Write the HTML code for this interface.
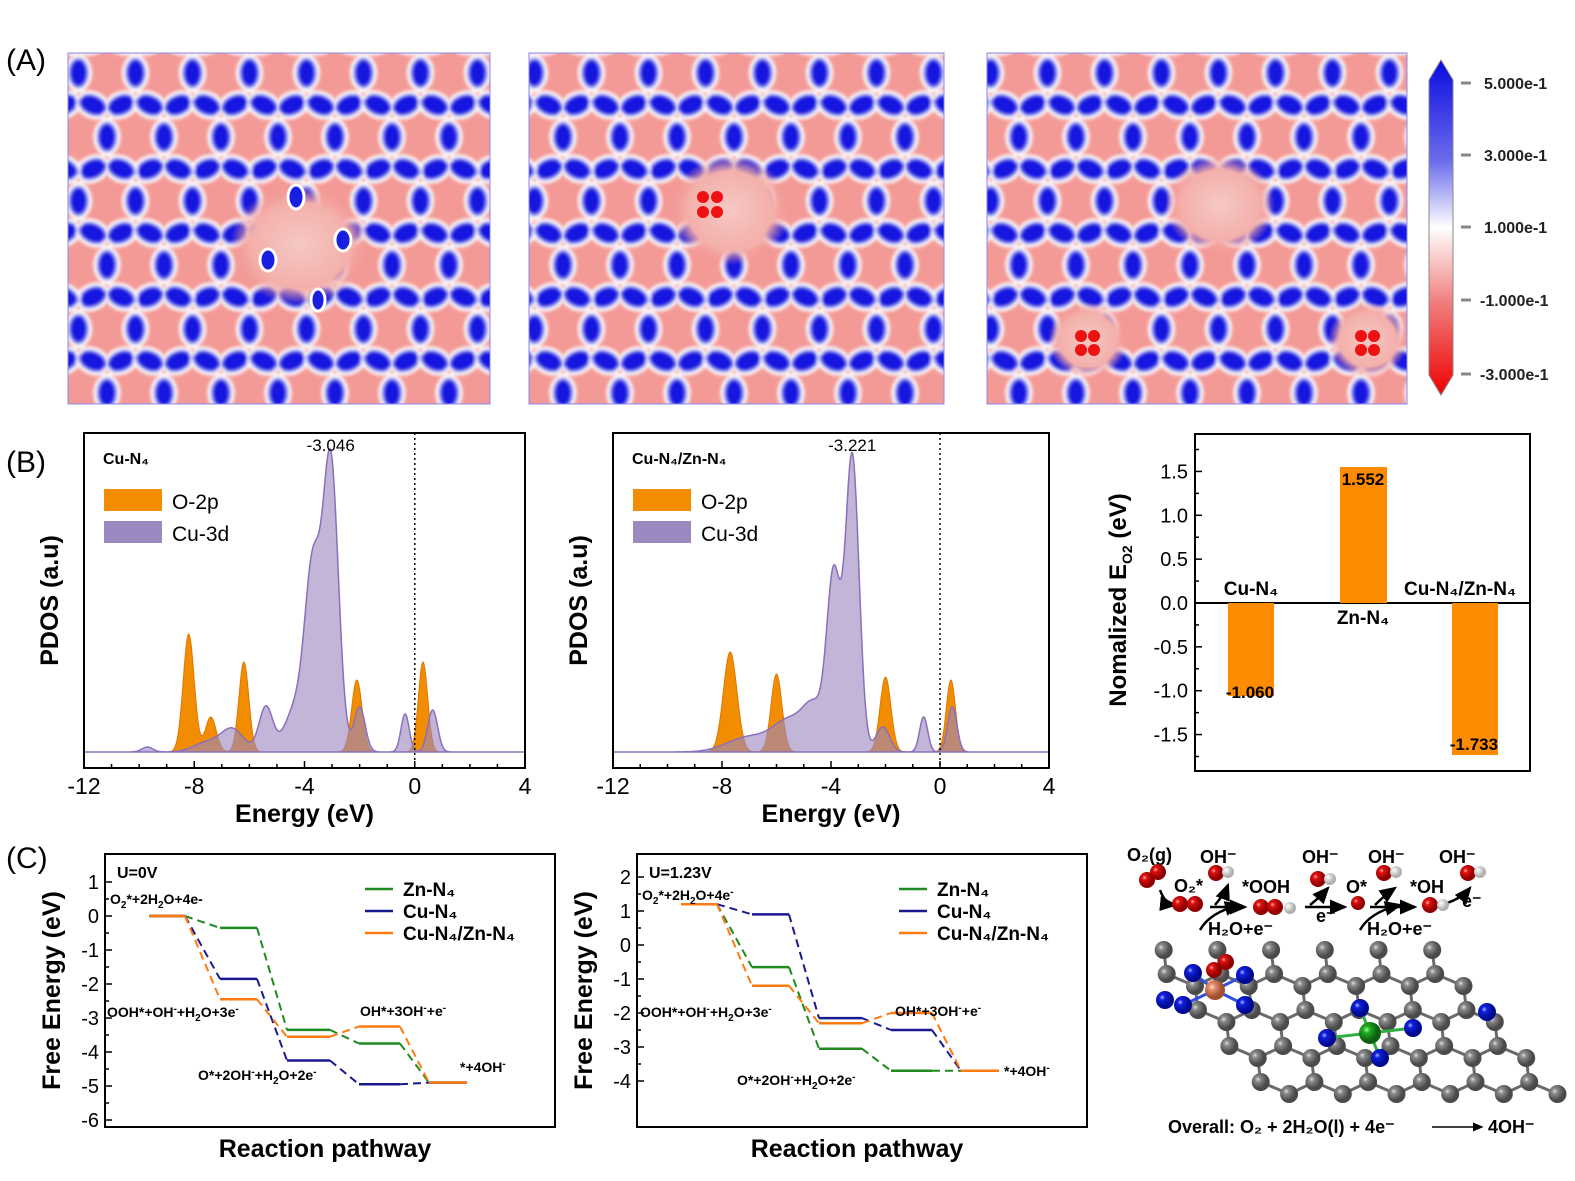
<!DOCTYPE html>
<html><head><meta charset="utf-8">
<style>
html,body{margin:0;padding:0;background:#fff;}
svg{display:block;font-family:"Liberation Sans",Arial,sans-serif;}
</style></head>
<body>
<svg id="s" width="1575" height="1181" viewBox="0 0 1575 1181" xmlns="http://www.w3.org/2000/svg">
<defs>
<filter id="bl" x="-5%" y="-5%" width="110%" height="110%"><feGaussianBlur stdDeviation="1.6"/></filter>
<pattern id="hex" patternUnits="userSpaceOnUse" width="57" height="128" patternTransform="translate(107,73)">
<rect x="-5" y="-5" width="70" height="140" fill="#f39a97"/>
<g filter="url(#bl)">
<g fill="#8a8cf0" stroke="#ffffff" stroke-width="3">
<ellipse cx="28.5" cy="0" rx="12" ry="17"/>
<ellipse cx="28.5" cy="128" rx="12" ry="17"/>
<ellipse cx="14.25" cy="32" rx="17" ry="12" transform="rotate(-24 14.25 32)"/>
<ellipse cx="42.75" cy="32" rx="17" ry="12" transform="rotate(24 42.75 32)"/>
<ellipse cx="0" cy="64" rx="12" ry="17"/>
<ellipse cx="57" cy="64" rx="12" ry="17"/>
<ellipse cx="42.75" cy="96" rx="17" ry="12" transform="rotate(-24 42.75 96)"/>
<ellipse cx="14.25" cy="96" rx="17" ry="12" transform="rotate(24 14.25 96)"/>
</g>
<g fill="#1414e0">
<ellipse cx="28.5" cy="0" rx="8" ry="13"/>
<ellipse cx="28.5" cy="128" rx="8" ry="13"/>
<ellipse cx="14.25" cy="32" rx="13" ry="8.5" transform="rotate(-24 14.25 32)"/>
<ellipse cx="42.75" cy="32" rx="13" ry="8.5" transform="rotate(24 42.75 32)"/>
<ellipse cx="0" cy="64" rx="8" ry="13"/>
<ellipse cx="57" cy="64" rx="8" ry="13"/>
<ellipse cx="42.75" cy="96" rx="13" ry="8.5" transform="rotate(-24 42.75 96)"/>
<ellipse cx="14.25" cy="96" rx="13" ry="8.5" transform="rotate(24 14.25 96)"/>
</g>
<g fill="#ffffff"><circle cx="28.5" cy="21" r="4.5"/><circle cx="0" cy="43" r="4.5"/><circle cx="57" cy="43" r="4.5"/><circle cx="28.5" cy="107" r="4.5"/><circle cx="0" cy="85" r="4.5"/><circle cx="57" cy="85" r="4.5"/></g>
<g fill="#f39a97"><circle cx="28.5" cy="21" r="2.2"/><circle cx="0" cy="43" r="2.2"/><circle cx="57" cy="43" r="2.2"/><circle cx="28.5" cy="107" r="2.2"/><circle cx="0" cy="85" r="2.2"/><circle cx="57" cy="85" r="2.2"/></g>
</g>
</pattern>
<radialGradient id="hole"><stop offset="0" stop-color="#f5c8c5"/><stop offset="0.7" stop-color="#f4b0ab"/><stop offset="1" stop-color="#f39a97" stop-opacity="0"/></radialGradient>
<linearGradient id="cb" x1="0" y1="0" x2="0" y2="1">
<stop offset="0" stop-color="#0a0ae0"/><stop offset="0.3" stop-color="#6b6bec"/><stop offset="0.5" stop-color="#ffffff"/><stop offset="0.72" stop-color="#f08080"/><stop offset="1" stop-color="#f00000"/>
</linearGradient>
<radialGradient id="gC" cx="0.35" cy="0.35"><stop offset="0" stop-color="#e0e0e0"/><stop offset="0.3" stop-color="#8a8a8a"/><stop offset="1" stop-color="#4a4a4a"/></radialGradient>
<radialGradient id="gN" cx="0.35" cy="0.35"><stop offset="0" stop-color="#b0b8ff"/><stop offset="0.3" stop-color="#1020e0"/><stop offset="1" stop-color="#000a90"/></radialGradient>
<radialGradient id="gO" cx="0.35" cy="0.35"><stop offset="0" stop-color="#ffb0b0"/><stop offset="0.3" stop-color="#e01010"/><stop offset="1" stop-color="#900000"/></radialGradient>
<radialGradient id="gH" cx="0.35" cy="0.35"><stop offset="0" stop-color="#ffffff"/><stop offset="1" stop-color="#b0b0b0"/></radialGradient>
<radialGradient id="gZ" cx="0.35" cy="0.35"><stop offset="0" stop-color="#a0ffa0"/><stop offset="0.3" stop-color="#20b020"/><stop offset="1" stop-color="#0a6010"/></radialGradient>
<radialGradient id="gU" cx="0.35" cy="0.35"><stop offset="0" stop-color="#ffe0d0"/><stop offset="0.3" stop-color="#e89070"/><stop offset="1" stop-color="#a05030"/></radialGradient>
<marker id="ar" markerWidth="8" markerHeight="8" refX="6" refY="4" orient="auto"><path d="M0,1 L7,4 L0,7 z" fill="#000"/></marker>
</defs>

<!-- Panel A -->
<text x="6" y="70" font-size="30">(A)</text>
<rect x="68" y="53" width="422" height="351" fill="url(#hex)" stroke="#8888ee" stroke-width="1"/>
<ellipse cx="300" cy="245" rx="70" ry="60" fill="url(#hole)"/>
<g fill="#1a1ee0" stroke="#fff" stroke-width="3"><ellipse cx="296" cy="197" rx="8" ry="12"/><ellipse cx="343" cy="240" rx="8" ry="11"/><ellipse cx="268" cy="260" rx="8" ry="11"/><ellipse cx="318" cy="300" rx="7" ry="11"/></g>
<rect x="529" y="53" width="415" height="351" fill="url(#hex)" stroke="#8888ee" stroke-width="1"/>
<ellipse cx="730" cy="210" rx="60" ry="55" fill="url(#hole)"/>
<g fill="#ee1111"><circle cx="703" cy="197" r="6"/><circle cx="717" cy="197" r="6"/><circle cx="703" cy="212" r="6"/><circle cx="717" cy="212" r="6"/></g>
<rect x="987" y="53" width="420" height="351" fill="url(#hex)" stroke="#8888ee" stroke-width="1"/>
<ellipse cx="1220" cy="205" rx="55" ry="50" fill="url(#hole)"/>
<ellipse cx="1088" cy="340" rx="40" ry="38" fill="url(#hole)"/>
<ellipse cx="1368" cy="340" rx="40" ry="38" fill="url(#hole)"/>
<g fill="#ee1111"><circle cx="1081" cy="336" r="6"/><circle cx="1094" cy="336" r="6"/><circle cx="1081" cy="350" r="6"/><circle cx="1094" cy="350" r="6"/>
<circle cx="1361" cy="336" r="6"/><circle cx="1374" cy="336" r="6"/><circle cx="1361" cy="350" r="6"/><circle cx="1374" cy="350" r="6"/></g>
<!-- colorbar -->
<path d="M1441,60 L1453,80 L1453,375 L1441,395 L1429,375 L1429,80 Z" fill="url(#cb)" stroke="#888" stroke-width="1"/>
<g stroke="#888" stroke-width="3"><line x1="1461" y1="83" x2="1471" y2="83"/><line x1="1461" y1="155" x2="1471" y2="155"/><line x1="1461" y1="227" x2="1471" y2="227"/><line x1="1461" y1="300" x2="1471" y2="300"/><line x1="1461" y1="374" x2="1471" y2="374"/></g>
<g font-size="16" font-weight="bold" fill="#222"><text x="1484" y="89">5.000e-1</text><text x="1484" y="161">3.000e-1</text><text x="1484" y="233">1.000e-1</text><text x="1480" y="306">-1.000e-1</text><text x="1480" y="380">-3.000e-1</text></g>

<!-- Panel B -->
<text x="6" y="472" font-size="30">(B)</text>
<g id="pdos"></g>

<!-- bar chart -->
<rect x="1195" y="434" width="335" height="337" fill="none" stroke="#000" stroke-width="2"/>
<line x1="1195" y1="603" x2="1530" y2="603" stroke="#000" stroke-width="2"/>
<g fill="#ff8c00"><rect x="1228" y="603" width="46" height="93"/><rect x="1340" y="467" width="47" height="136"/><rect x="1452" y="603" width="46" height="152"/></g>
<g font-size="17" font-weight="bold" text-anchor="middle"><text x="1250" y="698">-1.060</text><text x="1363" y="485">1.552</text><text x="1474" y="750">-1.733</text>
<text x="1251" y="595" font-size="19">Cu-N₄</text><text x="1363" y="624" font-size="19">Zn-N₄</text><text x="1460" y="595" font-size="19">Cu-N₄/Zn-N₄</text></g>
<g id="bart"></g>
<text transform="translate(1126,600) rotate(-90)" font-size="24" font-weight="bold" text-anchor="middle">Nomalized E<tspan font-size="14" dy="6">O2</tspan><tspan dy="-6"> (eV)</tspan></text>

<!-- Panel C -->
<text x="6" y="868" font-size="30">(C)</text>
<g id="fe"></g>

<!-- scheme -->
<g id="mol"></g>
<g font-size="18" font-weight="bold">
<text x="1127" y="861">O₂(g)</text><text x="1200" y="863">OH⁻</text><text x="1302" y="863">OH⁻</text><text x="1368" y="863">OH⁻</text><text x="1439" y="863">OH⁻</text>
<text x="1174" y="892">O₂*</text><text x="1242" y="893">*OOH</text><text x="1346" y="893">O*</text><text x="1410" y="893">*OH</text>
<text x="1208" y="935">H₂O+e⁻</text><text x="1367" y="935">H₂O+e⁻</text><text x="1316" y="922">e⁻</text><text x="1462" y="907">e⁻</text>
<text x="1168" y="1133">Overall:  O₂ + 2H₂O(l) + 4e⁻</text><text x="1488" y="1133">4OH⁻</text>
</g>
<line x1="1432" y1="1127" x2="1482" y2="1127" stroke="#000" stroke-width="1.5" marker-end="url(#ar)"/>
<g stroke="#000" stroke-width="2.5" fill="none" marker-end="url(#ar)">
<path d="M1160,890 Q1165,904 1175,905"/>
<line x1="1210" y1="907" x2="1245" y2="907"/><path d="M1215,905 Q1225,893 1228,885"/><path d="M1200,930 Q1210,912 1240,905"/>
<line x1="1305" y1="907" x2="1345" y2="907"/><path d="M1310,905 Q1320,897 1328,888"/>
<line x1="1370" y1="907" x2="1415" y2="907"/><path d="M1375,905 Q1385,895 1395,888"/><path d="M1360,930 Q1370,912 1400,905"/>
<path d="M1447,903 Q1462,898 1470,888"/>
</g>
<g id="mols"></g>
</svg>
<script>
function add(g,html){document.getElementById(g).insertAdjacentHTML('beforeend',html);}
function gsum(E,pk){let s=0;for(const p of pk)s+=p[1]*Math.exp(-((E-p[0])**2)/(2*p[2]*p[2]));return s;}
function pdos(x0,x1,y0,y1,lab,peakLab,cu,o){
  let h='';
  const fx=E=>x0+(E+12)/16*(x1-x0), base=y1-16;
  const path=pk=>{let d=`M${fx(-12)},${base}`;for(let E=-12;E<=4.001;E+=0.02){d+=` L${fx(E).toFixed(1)},${(base-gsum(E,pk)).toFixed(1)}`;}d+=` L${fx(4)},${base} Z`;return d;};
  h+=`<path d="${path(o)}" fill="#f28c00" stroke="#e07800" stroke-width="1"/>`;
  h+=`<path d="${path(cu)}" fill="#9c88c0" fill-opacity="0.62" stroke="#8a70bb" stroke-width="1.5"/>`;
  h+=`<line x1="${fx(0)}" y1="${y0}" x2="${fx(0)}" y2="${y1}" stroke="#000" stroke-width="1.5" stroke-dasharray="2,3"/>`;
  h+=`<rect x="${x0}" y="${y0}" width="${x1-x0}" height="${y1-y0}" fill="none" stroke="#000" stroke-width="2"/>`;
  for(let E=-12;E<=4;E+=1){const X=fx(E);const L=(E%4==0)?7:4;h+=`<line x1="${X}" y1="${y1}" x2="${X}" y2="${y1-L}" stroke="#000" stroke-width="1.5"/>`;
    if(E%4==0)h+=`<text x="${X}" y="${y1+26}" font-size="23" text-anchor="middle">${E<0?'-'+(-E):E}</text>`;}
  h+=`<text x="${(x0+x1)/2}" y="${y1+54}" font-size="25" font-weight="bold" text-anchor="middle">Energy (eV)</text>`;
  h+=`<text transform="translate(${x0-26},${(y0+y1)/2}) rotate(-90)" font-size="25" font-weight="bold" text-anchor="middle">PDOS (a.u)</text>`;
  h+=`<text x="${x0+19}" y="${y0+31}" font-size="16" font-weight="bold">${lab}</text>`;
  h+=`<rect x="${x0+20}" y="${y0+56}" width="58" height="22" fill="#f28c00"/><text x="${x0+88}" y="${y0+76}" font-size="21">O-2p</text>`;
  h+=`<rect x="${x0+20}" y="${y0+88}" width="58" height="22" fill="#9c88c0"/><text x="${x0+88}" y="${y0+108}" font-size="21">Cu-3d</text>`;
  h+=`<text x="${fx(peakLab[0])}" y="${y0+18}" font-size="17" text-anchor="middle">${peakLab[1]}</text>`;
  add('pdos',h);
}
pdos(84,525,433,768,'Cu-N₄',[-3.05,'-3.046'],
 [[-3.05,290,0.28],[-3.7,170,0.28],[-4.3,45,0.4],[-5.4,45,0.25],[-6.6,22,0.4],[-2.0,45,0.2],[-0.35,38,0.15],[0.65,42,0.18],[-9.7,5,0.2],[-7.5,10,0.5]],
 [[-8.2,118,0.2],[-7.4,35,0.2],[-6.2,90,0.18],[-2.1,72,0.19],[0.3,90,0.17]]);
pdos(613,1049,433,768,'Cu-N₄/Zn-N₄',[-3.22,'-3.221'],
 [[-3.22,295,0.25],[-3.9,170,0.25],[-4.6,40,0.4],[-5.5,30,0.6],[-7,15,0.8],[-0.6,35,0.15],[0.45,45,0.17],[-2.1,25,0.25]],
 [[-7.7,100,0.25],[-6.0,78,0.2],[-2.0,75,0.2],[0.4,72,0.17]]);
(function(){let h='';for(let v=-1.75;v<=1.76;v+=0.25){const y=603-v*87.7;const maj=Math.abs(v*2-Math.round(v*2))<1e-6;h+=`<line x1="1195" y1="${y}" x2="${1195+(maj?7:4)}" y2="${y}" stroke="#000" stroke-width="1.5"/>`;
 if(maj)h+=`<text x="1188" y="${y+7}" font-size="20" text-anchor="end">${v.toFixed(1)}</text>`;}add('bart',h);})();
function fe(x0,y0,x1,y1,vmin,vmax,v0y,title,data,legx,labels){
  let h='';const fy=v=>v0y-34*v;
  const L=[[44,80],[115,152],[182,225],[254,295],[324,362]];
  const cols={zn:'#1f8a1f',cu:'#1a1a90',cz:'#ff7a10'};
  for(const k of ['zn','cu','cz']){const d=data[k];
    for(let i=0;i<5;i++){h+=`<line x1="${x0+L[i][0]}" y1="${fy(d[i])}" x2="${x0+L[i][1]}" y2="${fy(d[i])}" stroke="${cols[k]}" stroke-width="2.5"/>`;
     if(i<4)h+=`<line x1="${x0+L[i][1]}" y1="${fy(d[i])}" x2="${x0+L[i+1][0]}" y2="${fy(d[i+1])}" stroke="${cols[k]}" stroke-width="2" stroke-dasharray="8,5"/>`;}}
  h+=`<rect x="${x0}" y="${y0}" width="${x1-x0}" height="${y1-y0}" fill="none" stroke="#000" stroke-width="2"/>`;
  for(let v=vmin;v<=vmax+0.01;v+=0.5){const y=fy(v);const maj=Number.isInteger(v);h+=`<line x1="${x0}" y1="${y}" x2="${x0+(maj?7:4)}" y2="${y}" stroke="#000" stroke-width="1.5"/>`;
    if(maj)h+=`<text x="${x0-6}" y="${y+7}" font-size="20" text-anchor="end">${v}</text>`;}
  h+=`<text x="${(x0+x1)/2-5}" y="${y1+30}" font-size="25" font-weight="bold" text-anchor="middle">Reaction pathway</text>`;
  h+=`<text transform="translate(${x0-45},${(y0+y1)/2}) rotate(-90)" font-size="25" font-weight="bold" text-anchor="middle">Free Energy (eV)</text>`;
  h+=`<text x="${x0+12}" y="${y0+24}" font-size="16" font-weight="bold">${title}</text>`;
  const lg=[['zn','Zn-N₄'],['cu','Cu-N₄'],['cz','Cu-N₄/Zn-N₄']];
  lg.forEach((e,i)=>{const y=y0+35+i*22;h+=`<line x1="${x0+legx}" y1="${y}" x2="${x0+legx+28}" y2="${y}" stroke="${cols[e[0]]}" stroke-width="2.5"/><text x="${x0+legx+38}" y="${y+7}" font-size="19" font-weight="bold">${e[1]}</text>`;});
  for(const l of labels)h+=`<text x="${x0+l[0]}" y="${l[1]}" font-size="14" font-weight="bold">${l[2]}</text>`;
  add('fe',h);
}
fe(105,854,555,1127,-6,1,916,'U=0V',{zn:[0,-0.35,-3.35,-3.75,-4.9],cu:[0,-1.85,-4.25,-4.95,-4.9],cz:[0,-2.45,-3.55,-3.25,-4.9]},260,
 [[5,904,'O<tspan font-size="10" dy="4">2</tspan><tspan dy="-4">*+2H</tspan><tspan font-size="10" dy="4">2</tspan><tspan dy="-4">O+4e-</tspan>'],
  [2,1017,'OOH*+OH<tspan font-size="10" dy="-5">-</tspan><tspan dy="5">+H</tspan><tspan font-size="10" dy="4">2</tspan><tspan dy="-4">O+3e</tspan><tspan font-size="10" dy="-5">-</tspan>'],
  [93,1080,'O*+2OH<tspan font-size="10" dy="-5">-</tspan><tspan dy="5">+H</tspan><tspan font-size="10" dy="4">2</tspan><tspan dy="-4">O+2e</tspan><tspan font-size="10" dy="-5">-</tspan>'],
  [255,1016,'OH*+3OH<tspan font-size="10" dy="-5">-</tspan><tspan dy="5">+e</tspan><tspan font-size="10" dy="-5">-</tspan>'],
  [355,1072,'*+4OH<tspan font-size="10" dy="-5">-</tspan>']]);
fe(637,854,1087,1127,-4,2,945,'U=1.23V',{zn:[1.2,-0.65,-3.05,-3.7,-3.7],cu:[1.2,0.9,-2.15,-2.5,-3.7],cz:[1.2,-1.2,-2.3,-2.0,-3.7]},262,
 [[5,900,'O<tspan font-size="10" dy="4">2</tspan><tspan dy="-4">*+2H</tspan><tspan font-size="10" dy="4">2</tspan><tspan dy="-4">O+4e</tspan><tspan font-size="10" dy="-5">-</tspan>'],
  [3,1017,'OOH*+OH<tspan font-size="10" dy="-5">-</tspan><tspan dy="5">+H</tspan><tspan font-size="10" dy="4">2</tspan><tspan dy="-4">O+3e</tspan><tspan font-size="10" dy="-5">-</tspan>'],
  [100,1085,'O*+2OH<tspan font-size="10" dy="-5">-</tspan><tspan dy="5">+H</tspan><tspan font-size="10" dy="4">2</tspan><tspan dy="-4">O+2e</tspan><tspan font-size="10" dy="-5">-</tspan>'],
  [258,1016,'OH*+3OH<tspan font-size="10" dy="-5">-</tspan><tspan dy="5">+e</tspan><tspan font-size="10" dy="-5">-</tspan>'],
  [367,1076,'*+4OH<tspan font-size="10" dy="-5">-</tspan>']]);
(function(){
  let bonds='',atoms='';
  const T=(u,v)=>[1110+31*u+3*v, 950+24*v];
  const pts=[];
  for(let j=-1;j<5;j++)for(let i=-6;i<12;i++){
    const u=i*1.732+j*0.866, v=j*1.5;
    for(const dv of [0,1]){const p=T(u,v+dv);
      const dy=p[1]-950;
      const minX=1125+dy*0.85, maxX=1450+dy*0.75;
      if(p[1]>=945&&p[0]>=minX&&p[0]<=maxX&&p[1]<=1100)pts.push(p);}
  }
  for(let i=0;i<pts.length;i++)for(let j=i+1;j<pts.length;j++){const a=pts[i],b=pts[j];const d=Math.hypot(b[0]-a[0],b[1]-a[1]);if(d<33&&d>3)bonds+=`<line x1="${a[0]}" y1="${a[1]}" x2="${b[0]}" y2="${b[1]}" stroke="#6a6a6a" stroke-width="3"/>`;}
  pts.sort((a,b)=>a[1]-b[1]).forEach(p=>{atoms+=`<circle cx="${p[0].toFixed(1)}" cy="${p[1].toFixed(1)}" r="9" fill="url(#gC)"/>`;});
  let sp='';
  sp+=`<g stroke="#3050e0" stroke-width="3"><line x1="1215" y1="990" x2="1193" y2="973"/><line x1="1215" y1="990" x2="1245" y2="975"/><line x1="1215" y1="990" x2="1183" y2="1005"/><line x1="1215" y1="990" x2="1245" y2="1005"/></g>`;
  sp+=`<g stroke="#30b040" stroke-width="3"><line x1="1370" y1="1033" x2="1327" y2="1038"/><line x1="1370" y1="1033" x2="1413" y2="1028"/><line x1="1370" y1="1033" x2="1380" y2="1058"/><line x1="1370" y1="1033" x2="1360" y2="1008"/></g>`;
  [[1193,973],[1245,975],[1183,1005],[1245,1005],[1327,1038],[1413,1028],[1380,1058],[1360,1008],[1487,1012],[1165,1000]].forEach(p=>sp+=`<circle cx="${p[0]}" cy="${p[1]}" r="9" fill="url(#gN)"/>`);
  sp+=`<circle cx="1215" cy="990" r="10" fill="url(#gU)"/><circle cx="1370" cy="1033" r="11" fill="url(#gZ)"/>`;
  sp+=`<circle cx="1214" cy="970" r="8" fill="url(#gO)"/><circle cx="1226" cy="962" r="8" fill="url(#gO)"/>`;
  const O=(x,y,r)=>`<circle cx="${x}" cy="${y}" r="${r||8}" fill="url(#gO)"/>`,H=(x,y)=>`<circle cx="${x}" cy="${y}" r="6" fill="url(#gH)"/>`;
  sp+=O(1147,880)+O(1158,872)+O(1180,904)+O(1195,904)+O(1216,873)+H(1228,872)+O(1261,907)+O(1275,907)+H(1290,908);
  sp+=O(1318,879)+H(1330,879)+O(1358,903,7)+O(1384,873)+H(1396,872)+O(1430,905)+H(1443,905)+O(1468,873)+H(1480,872);
  add('mol',bonds+atoms);add('mols',sp);
})();
</script>
</body></html>
